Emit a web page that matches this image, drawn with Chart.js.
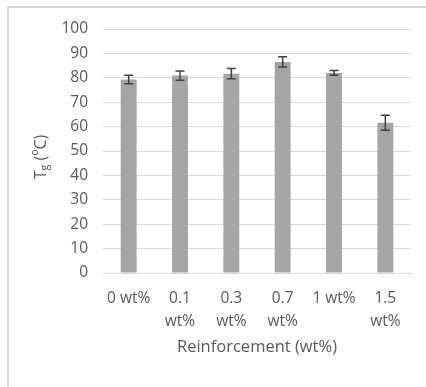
<!DOCTYPE html>
<html>
<head>
<meta charset="utf-8">
<script src="https://cdn.jsdelivr.net/npm/chart.js@4/dist/chart.umd.min.js"></script>
<style>
    html, body { margin: 0; padding: 0; background: #fff; overflow: hidden; }
    #wrap { position: relative; width: 426px; height: 387px; }
    #frame { position: absolute; left: 7px; top: 6px; width: 430px; height: 400px; border-left: 2px solid #d9d9d9; border-top: 2px solid #d9d9d9; box-sizing: border-box; }
    canvas { position: absolute; left: 0; top: 0; }
</style>
</head>
<body>
<div id="wrap">
    <div id="frame"></div>
    <canvas id="chartTg" width="426" height="387"></canvas>
</div>
<script>
const categorias = [['0 wt%'], ['0.1', 'wt%'], ['0.3', 'wt%'], ['0.7', 'wt%'], ['1 wt%'], ['1.5', 'wt%']];
const tgValores = [79.3, 80.9, 81.7, 86.5, 82.0, 61.6];
const tgErros = [1.7, 1.9, 2.1, 2.1, 1.0, 3.1];
const yTicks = [0, 10, 20, 30, 40, 50, 60, 70, 80, 90, 100];

const corTexto = '#595959';
const fonte = "'Open Sans', sans-serif";

// barras de erro desenhadas a partir das escalas
const errorBars = {
    id: 'errorBars',
    afterDatasetsDraw(chart) {
        const { ctx, scales: { x, y } } = chart;
        ctx.save();
        ctx.strokeStyle = '#404040';
        ctx.lineWidth = 1.5;
        tgValores.forEach((v, i) => {
            const cx = x.getPixelForValue(i);
            const top = y.getPixelForValue(v + tgErros[i]);
            const bot = y.getPixelForValue(v - tgErros[i]);
            ctx.beginPath();
            ctx.moveTo(cx, top); ctx.lineTo(cx, bot);
            ctx.moveTo(cx - 4.5, top); ctx.lineTo(cx + 4.5, top);
            ctx.moveTo(cx - 4.5, bot); ctx.lineTo(cx + 4.5, bot);
            ctx.stroke();
        });
        ctx.restore();
    }
};

// titulo do eixo Y com subscrito e sobrescrito
const yTitle = {
    id: 'yTitle',
    afterDraw(chart) {
        const { ctx } = chart;
        const partes = [
            { t: 'T', size: 16, dy: 0 },
            { t: 'g', size: 10.5, dy: 4 },
            { t: ' (', size: 16, dy: 0 },
            { t: 'o', size: 10.5, dy: -6 },
            { t: 'C)', size: 16, dy: 0 }
        ];
        ctx.save();
        let total = 0;
        partes.forEach(p => { ctx.font = p.size + 'px ' + fonte; p.w = ctx.measureText(p.t).width; total += p.w; });
        ctx.translate(41, 157);
        ctx.rotate(-Math.PI / 2);
        ctx.fillStyle = corTexto;
        ctx.textBaseline = 'middle';
        let px = -total / 2;
        partes.forEach(p => {
            ctx.font = p.size + 'px ' + fonte;
            ctx.fillText(p.t, px, p.dy);
            px += p.w;
        });
        ctx.restore();
    }
};

new Chart(document.getElementById('chartTg'), {
    type: 'bar',
    data: {
        labels: categorias,
        datasets: [{
            data: tgValores,
            backgroundColor: '#a5a5a5',
            borderWidth: 0,
            barPercentage: 0.31,
            categoryPercentage: 1
        }]
    },
    options: {
        responsive: false,
        animation: false,
        layout: { padding: { top: 29, right: 15, left: 0, bottom: 0 } },
        plugins: { legend: { display: false }, tooltip: { enabled: false } },
        scales: {
            x: {
                grid: { display: false, drawTicks: false },
                border: { color: '#d9d9d9', width: 1 },
                ticks: { color: corTexto, font: { family: fonte, size: 15.5, lineHeight: 1.48 }, padding: 14, maxRotation: 0, autoSkip: false },
                title: { display: true, text: 'Reinforcement (wt%)', color: corTexto, font: { family: fonte, size: 16.5 }, padding: { top: 0, bottom: 30 } },
                afterFit: (s) => { s.height = 114; }
            },
            y: {
                min: 0, max: 100,
                afterBuildTicks: (s) => { s.ticks = yTicks.map(v => ({ value: v })); },
                grid: { color: '#d9d9d9', drawTicks: false },
                border: { display: false },
                ticks: { color: corTexto, font: { family: fonte, size: 15.5 }, padding: 15 },
                afterFit: (s) => { s.width = 103; }
            }
        }
    },
    plugins: [errorBars, yTitle]
});
</script>
</body>
</html>
